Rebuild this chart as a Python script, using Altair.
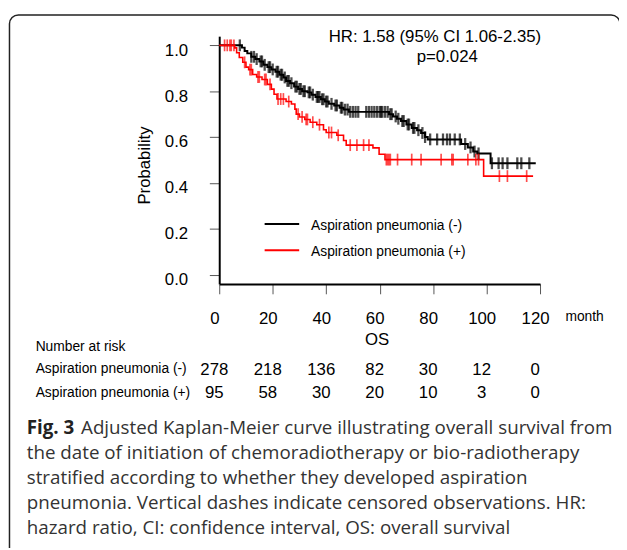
import altair as alt
import numpy as np
import pandas as pd

# ---------------- data ----------------
group_names = ["Aspiration pneumonia (-)", "Aspiration pneumonia (+)"]

neg_time = [0, 8.5, 9.5, 10.5, 12, 13.5, 15, 16.5, 18, 19.5, 21, 22.5, 24, 25, 26.5, 28,
            29.5, 31, 33, 34.5, 36, 38, 39.5, 41, 43, 45, 46.5, 48.5, 63.5, 65, 66.5, 68,
            70, 72, 74, 75.5, 77, 78, 90.5, 93, 95, 96.5, 101.5, 118.4]
neg_surv = [1.0, 0.99, 0.975, 0.965, 0.95, 0.94, 0.93, 0.915, 0.905, 0.895, 0.885, 0.872,
            0.86, 0.845, 0.835, 0.82, 0.81, 0.80, 0.795, 0.785, 0.775, 0.765, 0.755, 0.745,
            0.738, 0.728, 0.72, 0.71, 0.70, 0.69, 0.68, 0.67, 0.655, 0.64, 0.63, 0.618, 0.60,
            0.59, 0.57, 0.555, 0.537, 0.529, 0.486, 0.486]

pos_time = [0, 5.8, 6.5, 7.5, 8.8, 10, 11, 12.5, 14, 16, 18, 19.5, 20.5, 21.6, 25, 27, 28.3,
            28.8, 30, 32, 34, 36.5, 39, 40, 44, 46.5, 47.5, 57.5, 59.8, 62, 98.9, 117.4]
pos_surv = [1.0, 0.989, 0.968, 0.947, 0.926, 0.905, 0.894, 0.873, 0.862, 0.851, 0.83, 0.809,
            0.787, 0.766, 0.755, 0.744, 0.722, 0.70, 0.688, 0.677, 0.665, 0.654, 0.632, 0.62,
            0.608, 0.585, 0.565, 0.553, 0.525, 0.502, 0.43, 0.43]

neg_censored = [7.7, 12, 13, 14, 15.5, 16, 17, 18.5, 19, 20, 21.5, 22, 23, 23.5, 24.5, 25.5,
                26, 27, 28.5, 29, 30, 30.5, 31.5, 32, 33.5, 34, 35, 36.5, 37, 37.5, 38.5, 39,
                40, 40.5, 42, 43.5, 44, 45.5, 46, 47, 48, 49, 50, 51, 52, 55, 56, 57, 58, 59,
                60, 60.5, 61, 62, 63, 64, 64.5, 66, 67, 68.5, 69, 70.5, 71, 72.5, 73, 74.5, 76,
                77, 78.9, 81.5, 83.7, 85.2, 86.3, 88.1, 90, 92, 94, 95.5, 97, 102, 104.5, 106,
                107.8, 111.5, 113, 116]
pos_censored = [2, 3, 4, 4.5, 5.5, 9.5, 11.5, 12, 14.5, 15, 17, 17.5, 19, 22, 23, 24, 26,
                29.5, 31, 32.5, 33, 35, 37.5, 41, 42, 44.5, 49, 51.5, 54, 56, 62.5, 63, 63.5,
                64, 66.7, 72, 75.5, 83, 87, 87.5, 93, 96, 97, 104.8, 107.8, 115]

risk_times = [0, 20, 40, 60, 80, 100, 120]
risk_neg = [278, 218, 136, 82, 30, 12, 0]
risk_pos = [95, 58, 30, 20, 10, 3, 0]

x_ticks = [0, 20, 40, 60, 80, 100, 120]
y_ticks = [0.0, 0.2, 0.4, 0.6, 0.8, 1.0]

hr_text = "HR: 1.58 (95% CI 1.06-2.35)"
p_text = "p=0.024"
x_title = "OS"
x_unit = "month"
y_title = "Probability"
risk_title = "Number at risk"
caption_bold = "Fig. 3"
caption_lines = [
    "Adjusted Kaplan-Meier curve illustrating overall survival from",
    "the date of initiation of chemoradiotherapy or bio-radiotherapy",
    "stratified according to whether they developed aspiration",
    "pneumonia. Vertical dashes indicate censored observations. HR:",
    "hazard ratio, CI: confidence interval, OS: overall survival",
]

# ---------------- layout ----------------
FONT = "Liberation Sans"
CAP_FONT = "Open Sans"
CAP_SIZE = 19
X0, Y0 = 222, 33          # page position of plot origin
W, H = 325, 251


def gx(px):
    return px - X0


def gy(py):
    return py - Y0


def surv_at(times, survs, t):
    idx = np.searchsorted(np.asarray(times), t, side="right") - 1
    return float(survs[idx])


curve_neg = pd.DataFrame({"time": neg_time, "surv": neg_surv})
curve_pos = pd.DataFrame({"time": pos_time, "surv": pos_surv})
cens_neg = pd.DataFrame({"time": neg_censored,
                         "surv": [surv_at(neg_time, neg_surv, t) for t in neg_censored]})
cens_pos = pd.DataFrame({"time": pos_censored,
                         "surv": [surv_at(pos_time, pos_surv, t) for t in pos_censored]})

xscale = alt.Scale(domain=[0, 120], nice=False, zero=False)
yscale = alt.Scale(domain=[-0.04, 1.04], nice=False, zero=False)

x_axis = alt.Axis(values=x_ticks, title=None, grid=False, tickSize=10, tickColor="#555",
                  tickWidth=1, domainColor="black", domainWidth=2, labelFont=FONT,
                  labelFontSize=17, labelColor="black", labelPadding=17, labelOffset=-5,
                  labelFlush=False)
y_axis = alt.Axis(values=y_ticks, format=".1f", title=None, grid=False, tickSize=10,
                  tickColor="#555", tickWidth=1, domainColor="black", domainWidth=2,
                  labelFont=FONT, labelFontSize=17, labelColor="black", labelPadding=22,
                  labelOffset=5, labelFlush=False)

line_neg = alt.Chart(curve_neg).mark_line(interpolate="step-after", color="black",
                                          strokeWidth=2).encode(
    x=alt.X("time:Q", scale=xscale, axis=x_axis),
    y=alt.Y("surv:Q", scale=yscale, axis=y_axis),
)
line_pos = alt.Chart(curve_pos).mark_line(interpolate="step-after", color="#ff0000",
                                          strokeWidth=1.6).encode(
    x=alt.X("time:Q", title=None), y=alt.Y("surv:Q", title=None))
tick_neg = alt.Chart(cens_neg).mark_tick(orient="vertical", color="black", size=12,
                                         thickness=2.3).encode(
    x=alt.X("time:Q", title=None), y=alt.Y("surv:Q", title=None))
tick_pos = alt.Chart(cens_pos).mark_tick(orient="vertical", color="#ff0000", size=12,
                                         thickness=1.7).encode(
    x=alt.X("time:Q", title=None), y=alt.Y("surv:Q", title=None))


def label(text, px, py, size=14, align="left", weight="normal", font=FONT, angle=0,
          color="black", baseline="alphabetic"):
    return alt.Chart(pd.DataFrame({"t": [text]})).mark_text(
        align=align, baseline=baseline, fontSize=size, font=font, fontWeight=weight,
        angle=angle, color=color).encode(
        text="t:N", x=alt.value(gx(px)), y=alt.value(gy(py)))


frame = alt.Chart(pd.DataFrame({"a": [0]})).mark_rect(
    fillOpacity=0, stroke="#222", strokeWidth=1.5, cornerRadius=9).encode(
    x=alt.value(gx(9.5)), x2=alt.value(gx(628)), y=alt.value(gy(11.5)), y2=alt.value(gy(580)))

leg_neg_line = alt.Chart(pd.DataFrame({"a": [0]})).mark_rule(color="black", strokeWidth=2).encode(
    x=alt.value(gx(268)), x2=alt.value(gx(303)), y=alt.value(gy(223.3)))
leg_pos_line = alt.Chart(pd.DataFrame({"a": [0]})).mark_rule(color="#ff0000", strokeWidth=2).encode(
    x=alt.value(gx(268)), x2=alt.value(gx(303)), y=alt.value(gy(250)))

risk_df_neg = pd.DataFrame({"time": risk_times, "n": risk_neg})
risk_df_pos = pd.DataFrame({"time": risk_times, "n": risk_pos})
risk_neg_text = alt.Chart(risk_df_neg).mark_text(
    fontSize=17, font=FONT, align="center", baseline="alphabetic", dx=-5, color="black").encode(
    x=alt.X("time:Q", title=None), y=alt.value(gy(376)), text="n:Q")
risk_pos_text = alt.Chart(risk_df_pos).mark_text(
    fontSize=17, font=FONT, align="center", baseline="alphabetic", dx=-5, color="black").encode(
    x=alt.X("time:Q", title=None), y=alt.value(gy(400)), text="n:Q")

layers = [
    frame, line_neg, line_pos, tick_neg, tick_pos,
    label(hr_text, 440.5, 39, size=17, align="center"),
    label(p_text, 453, 59, size=17, align="center"),
    leg_neg_line, leg_pos_line,
    label(group_names[0], 315, 229, size=14),
    label(group_names[1], 315, 256, size=14),
    label(y_title, 147, 164, size=17, align="center", angle=270, baseline="middle"),
    label(x_title, 382, 346, size=17, align="center"),
    label(x_unit, 572.7, 322, size=14),
    label(risk_title, 36, 351.7, size=14),
    label(group_names[0], 36, 374.5, size=14),
    label(group_names[1], 36, 398.5, size=14),
    risk_neg_text, risk_pos_text,
    label(caption_bold, 27, 436, size=CAP_SIZE, weight="bold", font=CAP_FONT, color="#222"),
    label(caption_lines[0], 82, 436, size=CAP_SIZE, font=CAP_FONT, color="#333"),
]
for i, line in enumerate(caption_lines[1:], start=1):
    layers.append(label(line, 27, 436 + 25.3 * i, size=CAP_SIZE, font=CAP_FONT, color="#333"))

chart = alt.layer(*layers).properties(
    width=W, height=H,
    autosize=alt.AutoSizeParams(type="none"),
    padding={"left": X0 - 8, "top": Y0 - 8, "right": 619 - (X0 - 8) - W, "bottom": 540 - (Y0 - 8) - H},
    background="white",
).configure_view(stroke=None)

chart.save("out.html", embed_options={"renderer": "svg", "actions": False})
